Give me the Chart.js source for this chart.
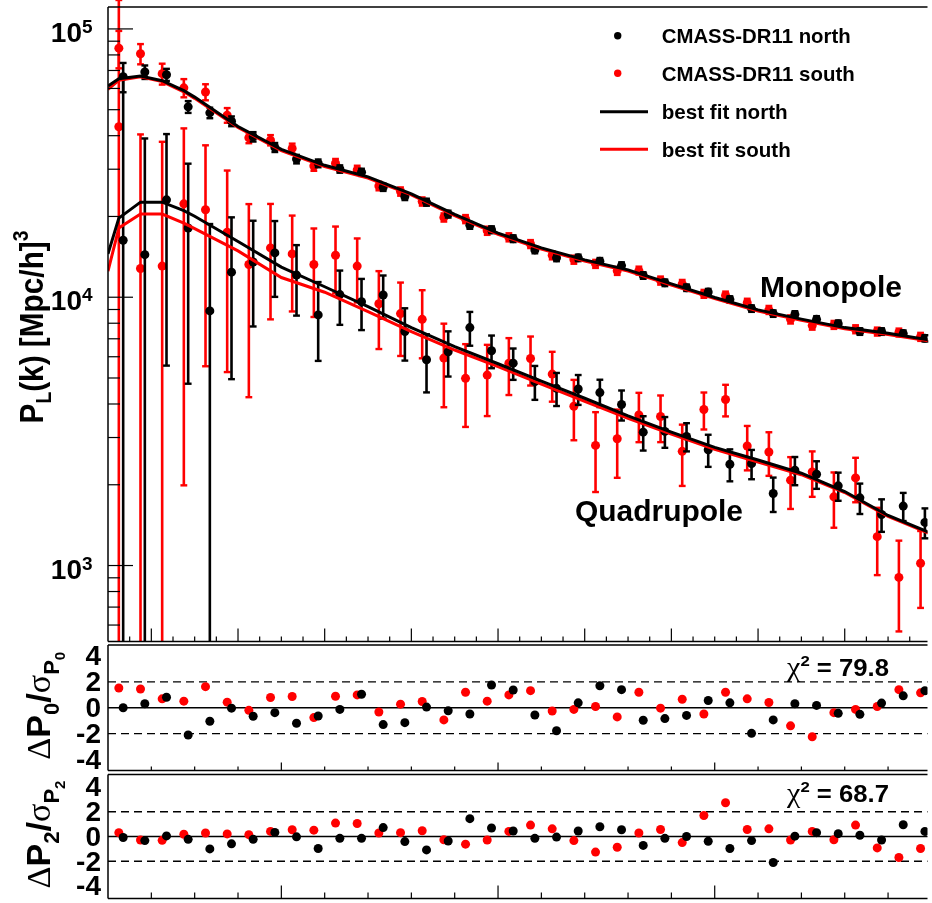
<!DOCTYPE html>
<html>
<head>
<meta charset="utf-8">
<script src="https://cdn.jsdelivr.net/npm/chart.js@4.4.1/dist/chart.umd.min.js"></script>
<style>
  body { margin: 0; background: #fff; }
  #wrap { position: relative; width: 932px; height: 903px; overflow: hidden; background: #fff; }
  canvas { position: absolute; left: 0; }
</style>
</head>
<body>
<div id="wrap">
  <canvas id="main" width="932" height="646" style="top:0px"></canvas>
  <canvas id="res0" width="932" height="135" style="top:640px"></canvas>
  <canvas id="res2" width="932" height="133" style="top:770px"></canvas>
</div>
<script>
// k bins (h/Mpc), south points sit slightly left of north ones
const kSouth = [0.0125,0.0175,0.0225,0.0275,0.0325,0.0375,0.0425,0.0475,0.0525,0.0575,
  0.0625,0.0675,0.0725,0.0775,0.0825,0.0875,0.0925,0.0975,0.1025,0.1075,
  0.1125,0.1175,0.1225,0.1275,0.1325,0.1375,0.1425,0.1475,0.1525,0.1575,
  0.1625,0.1675,0.1725,0.1775,0.1825,0.1875,0.1925,0.1975];
const kNorth = [0.0135,0.0185,0.0235,0.0285,0.0335,0.0385,0.0435,0.0485,0.0535,0.0585,
  0.0635,0.0685,0.0735,0.0785,0.0835,0.0885,0.0935,0.0985,0.1035,0.1085,
  0.1135,0.1185,0.1235,0.1285,0.1335,0.1385,0.1435,0.1485,0.1535,0.1585,
  0.1635,0.1685,0.1735,0.1785,0.1835,0.1885,0.1935,0.1985];

// monopole
const monoNorth = [66370,69080,67500,51230,48670,45290,39640,36170,32730,31560,
  30060,29220,25700,23740,22610,20410,18530,17850,16530,15010,
  14020,14020,13620,13120,12050,11320,10850,10450,9810,9070,
  8690,8630,8270,7970,7450,7450,7320,7030];
const monoNorthErr = [8300,4000,3500,2600,2200,1900,1600,1400,1200,1050,
  950,900,800,720,680,600,540,520,480,430,
  400,390,380,370,340,320,300,290,270,250,
  240,240,230,220,210,210,200,190];
const monoSouth = [84800,80800,68100,60300,58200,47700,39300,38500,35860,30840,
  31560,29810,25980,24780,22750,19840,19560,17700,16730,15790,
  14340,13810,13320,12540,12570,11540,11220,10300,10150,9540,
  8970,8270,7840,7890,7600,7450,7390,7120];
const monoSouthErr = [13500,7000,6100,4700,4000,3000,1800,1700,1500,1250,
  1200,1100,950,880,800,700,680,620,580,540,
  500,480,460,430,430,400,380,350,345,330,
  310,290,270,270,260,255,250,245];

// quadrupole
const quadNorth = [16300,14410,23060,18110,8890,12400,13530,14630,12090,8590,
  10230,9622,10190,7450,5848,6262,7705,6317,5680,4845,
  4576,4549,4411,3981,3142,3161,3028,2702,2385,2397,
  1855,2265,2189,1981,1788,1550,1665,1448];
const quadNorthErr = [50000,24650,17500,13350,9850,7450,5750,4600,3550,2800,
  2340,2080,1860,1645,1430,1200,1110,880,760,700,
  645,580,515,510,460,415,365,370,325,300,
  272,273,258,238,232,215,200,185];
const quadSouth = [43170,12790,13060,22290,21180,17460,13240,15270,14500,13240,
  14340,13060,9460,8690,8270,5930,4985,5126,5680,5912,
  5170,3925,2804,2968,3642,3593,2665,3814,4156,2788,
  2649,2080,2233,1803,2121,1281,903,1020];
const quadSouthErr = [85000,27650,24900,20300,15650,12200,9000,7000,5650,4800,
  4000,3500,3050,2650,2350,2040,1700,1520,1360,1225,
  1090,995,925,845,760,710,685,600,560,525,
  490,455,430,420,400,360,335,325];

// best fit curves
const kModel = [0.01,0.0125,0.0175,0.0225,0.0275,0.03,0.04,0.05,0.06,0.07,0.08,0.09,
  0.10,0.11,0.12,0.13,0.14,0.15,0.16,0.17,0.18,0.19,0.20];
const monoModelNorth = [61290,65240,66760,64140,58890,55690,43290,35560,31020,28100,24290,20360,
  17340,15270,13780,12650,11220,9980,8970,8285,7705,7335,6915];
const monoModelSouth = [59500,64300,66300,63600,58300,55100,42900,35200,30700,27800,24050,20150,
  17170,15120,13650,12520,11110,9880,8880,8200,7630,7260,6850];
const quadModelNorth = [14500,19720,22610,22610,21030,20040,16140,12950,10940,9220,7705,6550,
  5650,4870,4202,3612,3142,2756,2474,2208,1887,1537,1318];
const quadModelSouth = [12510,18110,20410,20410,18900,18030,14880,11840,10440,8836,7450,6357,
  5508,4747,4095,3535,3089,2710,2432,2180,1871,1524,1307];

// residuals (dP / sigma)
const res0North = [0,0.31,0.81,-2.11,-1.04,-0.03,-0.66,-0.38,-1.2,-0.64,
  -0.13,1.04,-1.3,-1.15,0.05,-0.23,-0.48,1.76,1.37,-0.56,
  -1.78,0.38,1.7,1.4,-0.97,-0.84,-0.59,0.56,0.38,-1.98,
  -0.94,0.31,0.18,-0.43,-0.51,0.36,0.92,1.32];
const res0South = [1.53,1.45,0.69,0.51,1.63,0.43,-0.2,0.79,0.87,-0.76,
  0.89,0.99,-0.33,0.28,0.48,-0.94,1.2,0.51,0.99,1.32,
  -0.25,-0.13,0.1,-0.71,1.2,-0.03,0.66,-0.48,1.2,0.69,
  0.41,-1.4,-2.24,-0.38,-0.13,0.1,1.4,1.15];
const res2North = [-0.08,-0.33,0.05,-0.23,-1.0,-0.59,-0.23,0.33,-0.03,-0.97,
  -0.15,-0.15,0.72,-0.41,-1.08,-0.36,1.44,0.69,0.44,-0.15,
  -0.05,0.44,0.79,0.54,-0.72,-0.15,0,-0.38,-0.97,-0.33,
  -2.1,0.03,0.31,0.23,0.1,-0.28,0.95,0.41];
const res2South = [0.31,-0.28,-0.31,0.18,0.28,0.21,0.15,0.41,0.54,0.51,
  1.08,1.05,0.28,0.31,0.46,-0.26,-0.62,-0.28,0.41,0.92,
  0.62,-0.33,-1.26,-0.87,0.28,0.56,-0.49,1.69,2.72,0.56,
  0.62,-0.28,0.41,-0.26,0.92,-0.92,-1.69,-0.97];

const chi2P0 = '79.8';
const chi2P2 = '68.7';
const legendLabels = ['CMASS-DR11 north', 'CMASS-DR11 south', 'best fit north', 'best fit south'];

const xMin = 0.01, xMax = 0.1991;
const yMin = 521, yMax = 120700;
const decades = [3, 4, 5];
const resTicks = [-4, -2, 0, 2, 4];

const RED = '#ff0000';
const BLACK = '#000000';
const SANS = '"Liberation Sans", Arial, Helvetica, sans-serif';
const SERIF = '"Liberation Serif", "DejaVu Serif", serif';

function pts(xs, ys) { return xs.map((x, i) => ({ x: x, y: ys[i] })); }

// draw a run of text pieces [text, font, dy], optionally rotated and squeezed to a length
function drawRich(ctx, parts, x, y, opts) {
  opts = opts || {};
  ctx.save();
  ctx.translate(x, y);
  if (opts.rotate) ctx.rotate(opts.rotate);
  let w = 0;
  parts.forEach(p => { ctx.font = p[1]; w += ctx.measureText(p[0]).width; });
  if (opts.length) ctx.scale(opts.length / w, 1);
  let cx = 0;
  if (opts.align === 'center') cx = -w / 2;
  else if (opts.align === 'right') cx = -w;
  ctx.fillStyle = BLACK;
  ctx.textBaseline = 'alphabetic';
  ctx.textAlign = 'left';
  parts.forEach(p => {
    ctx.font = p[1];
    ctx.fillText(p[0], cx, p[2] || 0);
    cx += ctx.measureText(p[0]).width;
  });
  ctx.restore();
}

function line(ctx, x1, y1, x2, y2) {
  ctx.beginPath(); ctx.moveTo(x1, y1); ctx.lineTo(x2, y2); ctx.stroke();
}

// vertical error bars, drawn just before the points of each dataset
const errorBars = {
  id: 'errorBars',
  beforeDatasetDraw(chart, args) {
    const ds = chart.data.datasets[args.index];
    if (!ds.errors) return;
    const ctx = chart.ctx, a = chart.chartArea;
    const xs = chart.scales.x, ys = chart.scales.y;
    ctx.save();
    ctx.strokeStyle = ds.backgroundColor;
    ds.data.forEach((p, i) => {
      const e = ds.errors[i];
      const x = xs.getPixelForValue(p.x);
      let top = ys.getPixelForValue(p.y + e);
      let topCap = true, botCap = true;
      if (top < 0) { top = 0; topCap = false; }
      let bot;
      if (p.y - e <= 0) { bot = a.bottom; botCap = false; }
      else {
        bot = ys.getPixelForValue(p.y - e);
        if (bot > a.bottom) { bot = a.bottom; botCap = false; }
      }
      ctx.lineWidth = 2.6;
      line(ctx, x, top, x, bot);
      ctx.lineWidth = 2.4;
      if (topCap) line(ctx, x - 3.4, top, x + 3.4, top);
      if (botCap) line(ctx, x - 3.4, bot, x + 3.4, bot);
    });
    ctx.restore();
  }
};

// frame, inward ticks, labels, legend of the top panel
const mainDecor = {
  id: 'mainDecor',
  afterDraw(chart) {
    const ctx = chart.ctx, a = chart.chartArea;
    const xs = chart.scales.x, ys = chart.scales.y;
    ctx.save();
    ctx.strokeStyle = BLACK;
    ctx.lineWidth = 1.5;
    line(ctx, a.left, a.top, a.right, a.top);
    line(ctx, a.left, a.top, a.left, a.bottom);
    line(ctx, a.left, a.bottom, a.right, a.bottom);

    // log ticks
    ctx.lineWidth = 1.2;
    for (let e = 2; e <= 5; e++) {
      for (let m = 1; m <= 9; m++) {
        const v = m * Math.pow(10, e);
        if (v < yMin || v > yMax) continue;
        const y = ys.getPixelForValue(v);
        line(ctx, a.left, y, a.left + (m === 1 ? 25 : 12), y);
      }
    }
    // k ticks
    for (let i = 3; i <= 39; i++) {
      const x = xs.getPixelForValue(i * 0.005);
      line(ctx, x, a.bottom, x, a.bottom - (i % 4 === 0 ? 13 : 5));
    }
    // y tick labels 10^n
    decades.forEach(n => {
      const y = ys.getPixelForValue(Math.pow(10, n));
      ctx.fillStyle = BLACK;
      ctx.textBaseline = 'alphabetic';
      ctx.font = 'bold 28px ' + SANS;
      ctx.textAlign = 'right';
      ctx.fillText('10', 82, y + 13);
      ctx.font = 'bold 19px ' + SANS;
      ctx.textAlign = 'left';
      ctx.fillText(String(n), 82, y + 4);
    });
    // y title
    drawRich(ctx, [
      ['P', 'bold 34px ' + SANS, 0],
      ['L', 'bold 22px ' + SANS, 8],
      ['(k) [Mpc/h]', 'bold 34px ' + SANS, 0],
      ['3', 'bold 22px ' + SANS, -15]
    ], 43, 327, { rotate: -Math.PI / 2, align: 'center', length: 193 });

    // legend
    ctx.fillStyle = BLACK;
    ctx.beginPath(); ctx.arc(617.7, 35.7, 3.7, 0, 2 * Math.PI); ctx.fill();
    ctx.fillStyle = RED;
    ctx.beginPath(); ctx.arc(617.7, 73.3, 3.7, 0, 2 * Math.PI); ctx.fill();
    ctx.lineWidth = 3;
    ctx.strokeStyle = BLACK; line(ctx, 600, 111.7, 648, 111.7);
    ctx.strokeStyle = RED; line(ctx, 600, 149.3, 648, 149.3);
    const lf = 'bold 21px ' + SANS;
    drawRich(ctx, [[legendLabels[0], lf]], 661.7, 43.3, { length: 189 });
    drawRich(ctx, [[legendLabels[1], lf]], 661.7, 81, { length: 193 });
    drawRich(ctx, [[legendLabels[2], lf]], 661.7, 119.3, { length: 126 });
    drawRich(ctx, [[legendLabels[3], lf]], 661.7, 157, { length: 129 });

    drawRich(ctx, [['Monopole', 'bold 30px ' + SANS]], 760, 297, { length: 142 });
    drawRich(ctx, [['Quadrupole', 'bold 30px ' + SANS]], 575, 521, { length: 168 });
    ctx.restore();
  }
};

// residual panels
function resDecor(sub, chi2, majorLen, minorLen, chiY) {
  return {
    id: 'resDecor' + sub,
    beforeDatasetsDraw(chart) {
      const ctx = chart.ctx, a = chart.chartArea, ys = chart.scales.y;
      ctx.save();
      ctx.strokeStyle = BLACK;
      ctx.lineWidth = 1.4;
      ctx.setLineDash([8, 5]);
      [-2, 2].forEach(v => { const y = ys.getPixelForValue(v); line(ctx, a.left, y, a.right, y); });
      ctx.setLineDash([]);
      const y0 = ys.getPixelForValue(0);
      line(ctx, a.left, y0, a.right, y0);
      ctx.restore();
    },
    afterDraw(chart) {
      const ctx = chart.ctx, a = chart.chartArea;
      const xs = chart.scales.x, ys = chart.scales.y;
      ctx.save();
      ctx.strokeStyle = BLACK;
      ctx.lineWidth = 1.5;
      line(ctx, a.left, a.top, a.right, a.top);
      line(ctx, a.left, a.top, a.left, a.bottom);
      line(ctx, a.left, a.bottom, a.right, a.bottom);
      ctx.lineWidth = 1.2;
      for (let i = 2; i <= 19; i++) {
        const x = xs.getPixelForValue(i * 0.01);
        line(ctx, x, a.bottom, x, a.bottom - (i % 5 === 0 ? majorLen : minorLen));
      }
      ctx.fillStyle = BLACK;
      ctx.font = 'bold 28px ' + SANS;
      ctx.textAlign = 'right';
      ctx.textBaseline = 'middle';
      resTicks.forEach(v => {
        ctx.fillText(String(v), 101, ys.getPixelForValue(v) + 1.5);
      });
      const cy = (a.top + a.bottom) / 2 - 2;
      drawRich(ctx, [
        ['\u0394', '34px ' + SERIF, 0],
        ['P', 'bold 34px ' + SANS, 0],
        [sub, 'bold 22px ' + SANS, 9],
        ['/', 'bold 34px ' + SANS, 0],
        ['\u03c3', '34px ' + SERIF, 0],
        ['P', 'bold 22px ' + SANS, 9],
        [sub, 'bold 15px ' + SANS, 15]
      ], 50, cy, { rotate: -Math.PI / 2, align: 'center', length: 108 });
      drawRich(ctx, [
        ['\u03c7', '27px ' + SERIF, 0],
        ['2', 'bold 15px ' + SANS, -10],
        [' = ' + chi2, 'bold 23px ' + SANS, 0]
      ], 787, chiY, { length: 102 });
      ctx.restore();
    }
  };
}

const baseOpts = (pad, yscale) => ({
  responsive: false,
  animation: false,
  events: [],
  layout: { padding: pad },
  plugins: { legend: { display: false }, tooltip: { enabled: false } },
  scales: { x: { type: 'linear', min: xMin, max: xMax, display: false }, y: yscale }
});

const dot = (color, data, errors) => ({
  data: data, errors: errors,
  backgroundColor: color, borderColor: color,
  pointRadius: 4.5, pointBorderWidth: 0, showLine: false
});
const curve = (color, data) => ({
  data: data, showLine: true, borderColor: color, backgroundColor: color,
  borderWidth: 3, pointRadius: 0, tension: 0, fill: false
});

new Chart(document.getElementById('main').getContext('2d'), {
  type: 'scatter',
  data: {
    datasets: [
      curve(BLACK, pts(kModel, monoModelNorth)),
      curve(BLACK, pts(kModel, quadModelNorth)),
      curve(RED, pts(kModel, monoModelSouth)),
      curve(RED, pts(kModel, quadModelSouth)),
      dot(BLACK, pts(kNorth, monoNorth), monoNorthErr),
      dot(BLACK, pts(kNorth, quadNorth), quadNorthErr),
      dot(RED, pts(kSouth, monoSouth), monoSouthErr),
      dot(RED, pts(kSouth, quadSouth), quadSouthErr)
    ]
  },
  options: baseOpts({ left: 108, top: 7, right: 0, bottom: 1 },
    { type: 'logarithmic', min: yMin, max: yMax, display: false }),
  plugins: [errorBars, mainDecor]
});

new Chart(document.getElementById('res0').getContext('2d'), {
  type: 'scatter',
  data: {
    datasets: [
      dot(BLACK, pts(kNorth, res0North)),
      dot(RED, pts(kSouth, res0South))
    ]
  },
  options: baseOpts({ left: 108, top: 5, right: 0, bottom: 3 },
    { type: 'linear', min: -4.85, max: 4.85, display: false }),
  plugins: [resDecor('0', chi2P0, 8, 4, 36)]
});

new Chart(document.getElementById('res2').getContext('2d'), {
  type: 'scatter',
  data: {
    datasets: [
      dot(BLACK, pts(kNorth, res2North)),
      dot(RED, pts(kSouth, res2South))
    ]
  },
  options: baseOpts({ left: 108, top: 2.3, right: 0, bottom: 1 },
    { type: 'linear', min: -5, max: 5, display: false }),
  plugins: [resDecor('2', chi2P2, 13, 6, 31.7)]
});
</script>
</body>
</html>
